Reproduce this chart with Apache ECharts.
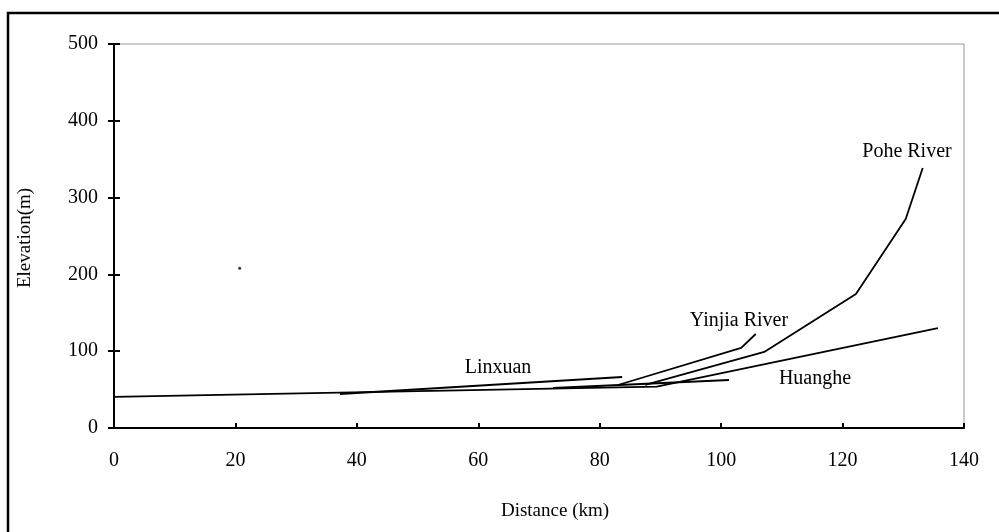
<!DOCTYPE html>
<html>
<head>
<meta charset="utf-8">
<script src="https://cdn.jsdelivr.net/npm/echarts@6/dist/echarts.min.js"></script>
<style>
  html, body { margin: 0; padding: 0; background: #fff; }
  #chart { width: 999px; height: 532px; }
</style>
</head>
<body>
<div id="chart"></div>
<script>
// river profiles: [distance km, elevation m]
const mainChannel = [[0, 40.4], [89.4, 54.0], [135.7, 130.2]];
const linxuan = [[37.2, 44.3], [83.7, 66.4]];
const huanghe = [[72.3, 52.1], [101.3, 62.5]];
const yinjia = [[83.0, 56.0], [103.3, 104.2], [105.7, 122.4]];
const pohe = [[87.5, 56.0], [107.1, 99.0], [122.2, 174.5], [130.4, 272.1], [133.2, 338.5]];
const strayPoint = [[20.7, 208]];

const xTicks = { min: 0, max: 140, interval: 20 };
const yTicks = { min: 0, max: 500, interval: 100 };

const serif = '"Liberation Serif", "Times New Roman", serif';

const lineSeries = (data) => ({
  type: 'line',
  data: data,
  symbol: 'none',
  silent: true,
  lineStyle: { color: '#000', width: 1.8 }
});

const chart = echarts.init(document.getElementById('chart'));

const option = {
  animation: false,
  backgroundColor: '#fff',
  grid: {
    left: 114, right: 35, top: 44, bottom: 104,
    show: true, borderColor: '#999', borderWidth: 1
  },
  xAxis: {
    type: 'value',
    min: xTicks.min, max: xTicks.max, interval: xTicks.interval,
    axisLine: { lineStyle: { color: '#000', width: 2 } },
    axisTick: { inside: true, length: 5, lineStyle: { color: '#000', width: 2 } },
    axisLabel: { margin: 23, color: '#000', fontSize: 20, fontFamily: serif },
    splitLine: { show: false }
  },
  yAxis: [{
    type: 'value',
    min: yTicks.min, max: yTicks.max, interval: yTicks.interval,
    axisLine: { show: true, lineStyle: { color: '#000', width: 2 } },
    axisTick: { show: true, length: 6, lineStyle: { color: '#000', width: 2 } },
    axisLabel: { margin: 16, color: '#000', fontSize: 20, fontFamily: serif },
    splitLine: { show: false }
  }, {
    // inner half of the crossing ticks
    type: 'value', position: 'left', offset: 0,
    min: yTicks.min, max: yTicks.max, interval: yTicks.interval,
    axisLine: { show: true, lineStyle: { color: '#000', width: 2 } },
    axisTick: { show: true, inside: true, length: 6, lineStyle: { color: '#000', width: 2 } },
    axisLabel: { show: false },
    splitLine: { show: false }
  }],
  series: [
    lineSeries(mainChannel),
    lineSeries(linxuan),
    lineSeries(huanghe),
    lineSeries(yinjia),
    lineSeries(pohe),
    {
      type: 'scatter', data: strayPoint, symbolSize: 3, silent: true,
      itemStyle: { color: '#000' }
    }
  ],
  graphic: [
    // outer frame
    {
      type: 'rect', silent: true,
      shape: { x: 8, y: 13, width: 1100, height: 700 },
      style: { fill: null, stroke: '#000', lineWidth: 2.5 }
    },
    {
      type: 'text', x: 25, y: 238, rotation: Math.PI / 2,
      style: { text: 'Elevation(m)', font: '19px ' + serif, fill: '#000', align: 'center', verticalAlign: 'middle' }
    },
    {
      type: 'text', x: 555, y: 511,
      style: { text: 'Distance (km)', font: '19px ' + serif, fill: '#000', align: 'center', verticalAlign: 'middle' }
    },
    {
      type: 'text', x: 498, y: 368,
      style: { text: 'Linxuan', font: '20px ' + serif, fill: '#000', align: 'center', verticalAlign: 'middle' }
    },
    {
      type: 'text', x: 739, y: 321,
      style: { text: 'Yinjia River', font: '20px ' + serif, fill: '#000', align: 'center', verticalAlign: 'middle' }
    },
    {
      type: 'text', x: 907, y: 152,
      style: { text: 'Pohe River', font: '20px ' + serif, fill: '#000', align: 'center', verticalAlign: 'middle' }
    },
    {
      type: 'text', x: 815, y: 379,
      style: { text: 'Huanghe', font: '20px ' + serif, fill: '#000', align: 'center', verticalAlign: 'middle' }
    }
  ]
};

chart.setOption(option);
</script>
</body>
</html>
